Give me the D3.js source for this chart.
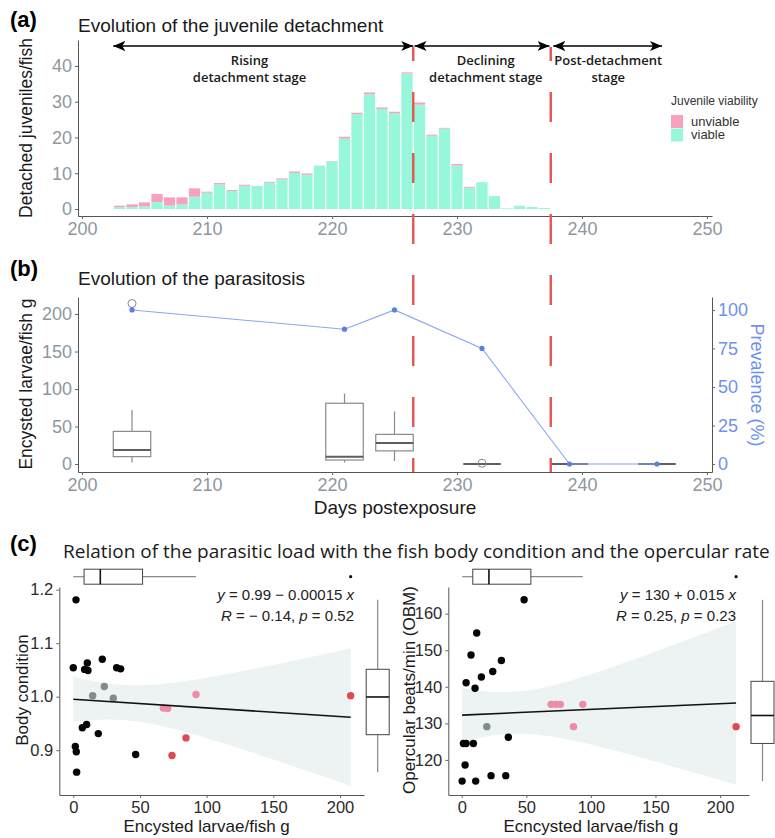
<!DOCTYPE html>
<html>
<head>
<meta charset="utf-8">
<script src="https://cdn.jsdelivr.net/npm/d3@7"></script>
<style>
  body { margin: 0; background: #fff; }
  svg text { font-family: "Liberation Sans", Arial, sans-serif; }
  .tickA text { fill: #8e979f; font-size: 18px; }
  .tickC text { fill: #2b2b2b; font-size: 16.5px; }
  .tickA line, .tickC line { stroke: #666; }
  .tickA path, .tickC path { stroke: #555; }
</style>
</head>
<body>
<div id="graph"></div>
<script>
// ---------- (a) juvenile detachment ----------
var detachDays  = [203, 204, 205, 206, 207, 208, 209, 210, 211, 212, 213, 214, 215, 216, 217, 218, 219, 220,
                   221, 222, 223, 224, 225, 226, 227, 228, 229, 230, 231, 232, 233, 234, 235, 236, 237];
var viableJuv   = [0.56, 0.56, 0.74, 1.95, 0.93, 1.3, 3.44, 4.56, 6.88, 5.02, 6.5, 6.4, 7.35, 8.28, 10.1, 9.6, 12.1, 13.3,
                   19.7, 26.5, 32.1, 28.0, 26.8, 37.9, 29.2, 20.5, 22.5, 12.2, 5.95, 7.5, 3.6, 0.2, 0.9, 0.55, 0.25];
var unviableJuv = [0.37, 0.74, 1.12, 2.25, 2.33, 1.96, 2.33, 0.28, 0.38, 0.28, 0.3, 0.05, 0.25, 0.28, 0.4, 0.35, 0.05, 0.1,
                   0.5, 0.4, 0.5, 0.4, 0.4, 0.3, 0.6, 0.3, 0.2, 0.4, 0.25, 0, 0, 0, 0, 0, 0];
var detachTicks = [0, 10, 20, 30, 40];
var dayTicks    = [200, 210, 220, 230, 240, 250];

var stageStart  = [202.5, 226.6, 237.7];
var stageEnd    = [226.5, 237.4, 246.4];
var stageMid    = [213.4, 232.3, 242.1];
var stageLine1  = ['Rising', 'Declining', 'Post-detachment'];
var stageLine2  = ['detachment stage', 'detachment stage', 'stage'];
var stageCuts   = [226.5, 237.5];

var legendKeys   = ['unviable', 'viable'];

// ---------- (b) parasitosis ----------
var prevDays    = [204, 221, 225, 232, 239, 246];
var prevalence  = [100, 87.5, 100, 75, 0, 0];
var boxDays     = [204, 221, 225, 232, 239, 246];
var boxLow      = [2, 2, 4, 0, 0, 0];
var boxQ1       = [9.8, 5.3, 17.5, 0, 0, 0];
var boxMed      = [18.7, 9.8, 28, 0, 0, 0];
var boxQ3       = [43.5, 81, 39.5, 0, 0, 0];
var boxHigh     = [72, 94, 70, 0, 0, 0];
var outDays     = [204, 232];
var outVals     = [214, 1];
var larvaeTicks = [0, 50, 100, 150, 200];
var prevTicks   = [0, 25, 50, 75, 100];

// ---------- (c) relations ----------
// group: k = black, g = grey, p = pink, r = red
var bcLoad  = [2, 0, 10.5, 8.5, 11, 21.75, 32.5, 35.5, 6.75, 10, 18.75, 1.5, 2.25, 2.5, 46.75,
               14.5, 23.25, 30, 67.5, 70.75, 92, 74, 84.5, 208];
var bcValue = [1.181, 1.054, 1.063, 1.051, 1.049, 1.070, 1.054, 1.052, 0.942, 0.948, 0.931, 0.907, 0.897, 0.859, 0.892,
               1.002, 1.019, 0.997, 0.979, 0.978, 1.004, 0.890, 0.923, 1.002];
var bcGroup = ['k','k','k','k','k','k','k','k','k','k','k','k','k','k','k',
               'g','g','g','p','p','p','r','r','r'];

var obmLoad  = [0.3, 2.6, 1.3, 3.4, 9, 3.4, 10.3, 7.2, 11.6, 15.2, 24, 30.7, 48.3, 36.1, 10.8, 22.7, 34.1,
                19.4, 69.2, 72.8, 76.4, 93.7, 86.5, 212.4];
var obmValue = [114.2, 118.6, 124.5, 124.5, 124.5, 141.1, 139.6, 148.7, 154.7, 142.7, 144.2, 147.2, 163.8, 126.2, 114.2, 115.7, 115.7,
                129.1, 135.2, 135.2, 135.2, 135.2, 129.1, 129.1];
var obmGroup = ['k','k','k','k','k','k','k','k','k','k','k','k','k','k','k','k','k',
                'g','p','p','p','p','p','r'];

var loadTicks = [0, 50, 100, 150, 200];
var bcTicks   = [0.9, 1.0, 1.1, 1.2];
var obmTicks  = [120, 130, 140, 150, 160];
var tCrit     = 2.074;   // t(0.975, df = 22)

var groupColour = { k: '#050505', g: '#7f8b8c', p: '#ec8ca6', r: '#e04a4e' };
var viableCol   = '#96f7da';
var unviableCol = '#f7a1bb';
var cutCol      = '#e2574f';
var prevCol     = '#6f90ee';

var svg = d3.select('#graph').append('svg')
            .attr('width', 775)
            .attr('height', 838);

svg.append('defs').append('marker')
   .attr('id', 'arrowHead')
   .attr('viewBox', '0 0 12 10')
   .attr('refX', 12).attr('refY', 5)
   .attr('markerWidth', 12).attr('markerHeight', 10)
   .attr('markerUnits', 'userSpaceOnUse')
   .attr('orient', 'auto-start-reverse')
   .append('path')
   .attr('d', 'M0,0 L12,5 L0,10 L3,5 Z')
   .attr('fill', '#000');

// shared day axis for (a) and (b)
var xDay = d3.scaleLinear().domain([199.68, 250.4]).range([78, 712]);

//
// (a)
//
var yA = d3.scaleLinear().domain([-1.96, 47.27]).range([216, 40]);

svg.append('text').attr('x', 10).attr('y', 27)
   .style('font-size', '22px').style('font-weight', 'bold').text('(a)');
svg.append('text').attr('x', 78).attr('y', 32)
   .style('font-size', '19px').attr('fill', '#1a1a1a').text('Evolution of the juvenile detachment');

var barW = 0.9 * (xDay(1) - xDay(0));
var bars = svg.append('g');
bars.selectAll('.viable').data(detachDays).enter().append('rect')
    .attr('x', function (d) { return xDay(d) - barW / 2; })
    .attr('width', barW)
    .attr('y', function (d, i) { return yA(viableJuv[i]); })
    .attr('height', function (d, i) { return yA(0) - yA(viableJuv[i]); })
    .attr('fill', viableCol);
bars.selectAll('.unviable').data(detachDays).enter().append('rect')
    .attr('x', function (d) { return xDay(d) - barW / 2; })
    .attr('width', barW)
    .attr('y', function (d, i) { return yA(viableJuv[i] + unviableJuv[i]); })
    .attr('height', function (d, i) { return yA(viableJuv[i]) - yA(viableJuv[i] + unviableJuv[i]); })
    .attr('fill', unviableCol);

svg.append('g').attr('class', 'tickA')
   .attr('transform', 'translate(78,0)')
   .call(d3.axisLeft(yA).tickValues(detachTicks).tickSize(3).tickSizeOuter(0));
svg.append('g').attr('class', 'tickA')
   .attr('transform', 'translate(0,216)')
   .call(d3.axisBottom(xDay).tickValues(dayTicks).tickSize(3).tickSizeOuter(0));

svg.append('text')
   .attr('transform', 'translate(32,128) rotate(-90)')
   .attr('text-anchor', 'middle')
   .style('font-size', '17.5px').attr('fill', '#1a1a1a')
   .text('Detached juveniles/fish');

// stage arrows and labels
stageStart.forEach(function (s, i) {
    svg.append('line')
       .attr('x1', xDay(s)).attr('x2', xDay(stageEnd[i]))
       .attr('y1', 46).attr('y2', 46)
       .attr('stroke', '#000').attr('stroke-width', 1.5)
       .attr('marker-start', 'url(#arrowHead)')
       .attr('marker-end', 'url(#arrowHead)');
    var t = svg.append('text')
       .attr('x', xDay(stageMid[i])).attr('text-anchor', 'middle')
       .style('font-family', '"Open Sans", sans-serif')
       .style('font-size', '13px').style('font-weight', 600).attr('fill', '#1a1a1a');
    t.append('tspan').attr('x', xDay(stageMid[i])).attr('y', 65).text(stageLine1[i]);
    t.append('tspan').attr('x', xDay(stageMid[i])).attr('y', 82).text(stageLine2[i]);
});

// legend
svg.append('text').attr('x', 671).attr('y', 105)
   .style('font-size', '12px').attr('fill', '#333').text('Juvenile viability');
legendKeys.forEach(function (k, i) {
    svg.append('rect').attr('x', 671).attr('y', 115 + i * 13.5)
       .attr('width', 12).attr('height', 13)
       .attr('fill', i == 0 ? unviableCol : viableCol);
    svg.append('text').attr('x', 691).attr('y', 125.5 + i * 13.5)
       .style('font-size', '13px').attr('fill', '#333').text(k);
});

//
// (b)
//
var yB  = d3.scaleLinear().domain([-10.67, 222.7]).range([472, 297]);
var yBP = d3.scaleLinear().domain([-5.19, 108.4]).range([472, 297]);

svg.append('text').attr('x', 10).attr('y', 276)
   .style('font-size', '22px').style('font-weight', 'bold').text('(b)');
svg.append('text').attr('x', 78).attr('y', 285)
   .style('font-size', '19px').attr('fill', '#1a1a1a').text('Evolution of the parasitosis');

var boxHalf = 1.5 * (xDay(1) - xDay(0));
var boxes = svg.append('g').attr('fill', 'none');
boxDays.forEach(function (d, i) {
    var cx = xDay(d);
    boxes.append('line').attr('x1', cx).attr('x2', cx)
         .attr('y1', yB(boxQ3[i])).attr('y2', yB(boxHigh[i]))
         .attr('stroke', '#8a8a8a').attr('stroke-width', 1.2);
    boxes.append('line').attr('x1', cx).attr('x2', cx)
         .attr('y1', yB(boxQ1[i])).attr('y2', yB(boxLow[i]))
         .attr('stroke', '#8a8a8a').attr('stroke-width', 1.2);
    boxes.append('rect').attr('x', cx - boxHalf).attr('width', 2 * boxHalf)
         .attr('y', yB(boxQ3[i])).attr('height', yB(boxQ1[i]) - yB(boxQ3[i]))
         .attr('stroke', '#8a8a8a').attr('stroke-width', 1.2);
    boxes.append('line').attr('x1', cx - boxHalf).attr('x2', cx + boxHalf)
         .attr('y1', yB(boxMed[i])).attr('y2', yB(boxMed[i]))
         .attr('stroke', '#5e5e5e').attr('stroke-width', 2);
});
outDays.forEach(function (d, i) {
    boxes.append('circle').attr('cx', xDay(d)).attr('cy', yB(outVals[i])).attr('r', 4)
         .attr('stroke', '#8a8a8a').attr('stroke-width', 1);
});

svg.append('path')
   .datum(prevDays)
   .attr('fill', 'none').attr('stroke', '#8aa6f0').attr('stroke-width', 1.1)
   .attr('d', d3.line().x(function (d) { return xDay(d); })
                       .y(function (d, i) { return yBP(prevalence[i]); }));
svg.selectAll('.prevPt').data(prevDays).enter().append('circle')
   .attr('cx', function (d) { return xDay(d); })
   .attr('cy', function (d, i) { return yBP(prevalence[i]); })
   .attr('r', 2.6).attr('fill', '#5b7ee8');

svg.append('g').attr('class', 'tickA')
   .attr('transform', 'translate(78,0)')
   .call(d3.axisLeft(yB).tickValues(larvaeTicks).tickSize(3).tickSizeOuter(0));
var rAx = svg.append('g').attr('class', 'tickA')
   .attr('transform', 'translate(712,0)')
   .call(d3.axisRight(yBP).tickValues(prevTicks).tickSize(3).tickSizeOuter(0));
rAx.selectAll('text').style('fill', prevCol);
svg.append('g').attr('class', 'tickA')
   .attr('transform', 'translate(0,472)')
   .call(d3.axisBottom(xDay).tickValues(dayTicks).tickSize(3).tickSizeOuter(0));

svg.append('text')
   .attr('transform', 'translate(32,384) rotate(-90)')
   .attr('text-anchor', 'middle')
   .style('font-size', '17.5px').attr('fill', '#1a1a1a')
   .text('Encysted larvae/fish g');
svg.append('text')
   .attr('transform', 'translate(751,385) rotate(90)')
   .attr('text-anchor', 'middle')
   .style('font-size', '18px').attr('fill', prevCol)
   .text('Prevalence (%)');
svg.append('text').attr('x', 395).attr('y', 514).attr('text-anchor', 'middle')
   .style('font-size', '19px').attr('fill', '#1a1a1a').text('Days postexposure');

// red cut lines across (a) and (b)
stageCuts.forEach(function (c) {
    svg.append('line')
       .attr('x1', xDay(c)).attr('x2', xDay(c))
       .attr('y1', 47).attr('y2', 472)
       .attr('stroke', cutCol).attr('stroke-width', 2.4)
       .attr('stroke-dasharray', '30,31').attr('stroke-dashoffset', 16);
});

//
// (c)
//
svg.append('text').attr('x', 10).attr('y', 551)
   .style('font-size', '22px').style('font-weight', 'bold').text('(c)');
var titleC = svg.append('text').attr('x', 63).attr('y', 558)
   .style('font-family', '"Open Sans", sans-serif')
   .style('font-size', '18px').attr('fill', '#1a1a1a')
   .text('Relation of the parasitic load with the fish body condition and the opercular rate');
var tw = titleC.node().getComputedTextLength();
titleC.style('font-size', (18 * 707 / tw) + 'px');

function boxStats (vals)
{
    var s = vals.slice().sort(d3.ascending);
    var q1 = d3.quantile(s, 0.25), med = d3.quantile(s, 0.5), q3 = d3.quantile(s, 0.75);
    var iqr = q3 - q1;
    var inside = s.filter(function (v) { return v >= q1 - 1.5 * iqr && v <= q3 + 1.5 * iqr; });
    return { q1: q1, med: med, q3: q3, lo: d3.min(inside), hi: d3.max(inside),
             out: s.filter(function (v) { return v < q1 - 1.5 * iqr || v > q3 + 1.5 * iqr; }) };
}

function drawScatter (xs, ys, grp, xScale, yScale, yTicks, yFmt, yLabel, yLabelX, xLabel, eq1, eq2, eqX, sideX)
{
    var g = svg.append('g');

    // regression + 95% band
    var n = xs.length;
    var mx = d3.mean(xs), my = d3.mean(ys);
    var sxx = d3.sum(xs, function (v) { return (v - mx) * (v - mx); });
    var sxy = d3.sum(xs, function (v, i) { return (v - mx) * (ys[i] - my); });
    var slope = sxy / sxx, icpt = my - slope * mx;
    var sse = d3.sum(xs, function (v, i) { var r = ys[i] - (icpt + slope * v); return r * r; });
    var se = Math.sqrt(sse / (n - 2));
    var xmin = d3.min(xs), xmax = d3.max(xs);
    var grid = d3.range(0, 81).map(function (k) { return xmin + (xmax - xmin) * k / 80; });
    var half = function (v) { return tCrit * se * Math.sqrt(1 / n + (v - mx) * (v - mx) / sxx); };

    g.append('path').datum(grid)
     .attr('fill', '#edf2f2')
     .attr('d', d3.area().x(function (v) { return xScale(v); })
                         .y0(function (v) { return yScale(icpt + slope * v - half(v)); })
                         .y1(function (v) { return yScale(icpt + slope * v + half(v)); }));

    g.selectAll('.pt').data(xs).enter().append('circle')
     .attr('cx', function (d) { return xScale(d); })
     .attr('cy', function (d, i) { return yScale(ys[i]); })
     .attr('r', 3.7)
     .attr('fill', function (d, i) { return groupColour[grp[i]]; });

    g.append('line')
     .attr('x1', xScale(xmin)).attr('x2', xScale(xmax))
     .attr('y1', yScale(icpt + slope * xmin)).attr('y2', yScale(icpt + slope * xmax))
     .attr('stroke', '#111').attr('stroke-width', 1.6);

    svg.append('g').attr('class', 'tickC')
       .attr('transform', 'translate(' + xScale.range()[0] + ',0)')
       .call(d3.axisLeft(yScale).tickValues(yTicks).tickFormat(yFmt).tickSize(3).tickSizeOuter(0));
    svg.append('g').attr('class', 'tickC')
       .attr('transform', 'translate(0,795)')
       .call(d3.axisBottom(xScale).tickValues(loadTicks).tickSize(3).tickSizeOuter(0));

    svg.append('text')
       .attr('transform', 'translate(' + yLabelX + ',690) rotate(-90)')
       .attr('text-anchor', 'middle')
       .style('font-size', '17px').attr('fill', '#1a1a1a').text(yLabel);
    svg.append('text')
       .attr('x', (xScale(0) + xScale(200)) / 2).attr('y', 832).attr('text-anchor', 'middle')
       .style('font-size', '17px').attr('fill', '#1a1a1a').text(xLabel);

    // equation text
    [eq1, eq2].forEach(function (parts, li) {
        var t = svg.append('text').attr('x', eqX).attr('y', 600 + li * 21)
                   .attr('text-anchor', 'end')
                   .style('font-size', '15px').attr('fill', '#222');
        parts.forEach(function (p) {
            t.append('tspan').style('font-style', p[1] ? 'italic' : 'normal').text(p[0]);
        });
    });

    // marginal boxplot on top (x distribution)
    var bx = boxStats(xs), cy = 576.7, hh = 7.5;
    var mg = svg.append('g').attr('fill', 'none');
    mg.append('line').attr('x1', xScale(bx.lo)).attr('x2', xScale(bx.q1)).attr('y1', cy).attr('y2', cy)
      .attr('stroke', '#888').attr('stroke-width', 1.2);
    mg.append('line').attr('x1', xScale(bx.q3)).attr('x2', xScale(bx.hi)).attr('y1', cy).attr('y2', cy)
      .attr('stroke', '#888').attr('stroke-width', 1.2);
    mg.append('rect').attr('x', xScale(bx.q1)).attr('width', xScale(bx.q3) - xScale(bx.q1))
      .attr('y', cy - hh).attr('height', 2 * hh).attr('stroke', '#444').attr('stroke-width', 1);
    mg.append('line').attr('x1', xScale(bx.med)).attr('x2', xScale(bx.med)).attr('y1', cy - hh).attr('y2', cy + hh)
      .attr('stroke', '#111').attr('stroke-width', 1.6);
    bx.out.forEach(function (o) {
        mg.append('circle').attr('cx', xScale(o)).attr('cy', cy).attr('r', 1.6).attr('fill', '#111');
    });

    // marginal boxplot on the side (y distribution)
    var by = boxStats(ys), hw = 11.5;
    mg.append('line').attr('x1', sideX).attr('x2', sideX).attr('y1', yScale(by.lo)).attr('y2', yScale(by.q1))
      .attr('stroke', '#888').attr('stroke-width', 1.2);
    mg.append('line').attr('x1', sideX).attr('x2', sideX).attr('y1', yScale(by.q3)).attr('y2', yScale(by.hi))
      .attr('stroke', '#888').attr('stroke-width', 1.2);
    mg.append('rect').attr('x', sideX - hw).attr('width', 2 * hw)
      .attr('y', yScale(by.q3)).attr('height', yScale(by.q1) - yScale(by.q3))
      .attr('stroke', '#444').attr('stroke-width', 1);
    mg.append('line').attr('x1', sideX - hw).attr('x2', sideX + hw).attr('y1', yScale(by.med)).attr('y2', yScale(by.med))
      .attr('stroke', '#111').attr('stroke-width', 1.6);
}

var xL = d3.scaleLinear().domain([-10.5, 218]).range([59.3, 364]);
var yL = d3.scaleLinear().domain([0.8163, 1.205]).range([795, 587]);
var xR = d3.scaleLinear().domain([-10.4, 222.4]).range([448.3, 749]);
var yR = d3.scaleLinear().domain([110.4, 167.3]).range([795, 587]);

drawScatter(bcLoad, bcValue, bcGroup, xL, yL, bcTicks, d3.format('.1f'), 'Body condition', 28,
            'Encysted larvae/fish g',
            [['y', 1], [' = 0.99 \u2212 0.00015 ', 0], ['x', 1]],
            [['R', 1], [' = \u2212 0.14, ', 0], ['p', 1], [' = 0.52', 0]],
            354, 377.7);
drawScatter(obmLoad, obmValue, obmGroup, xR, yR, obmTicks, d3.format('d'), 'Opercular beats/min (OBM)', 415,
            'Ecncysted larvae/fish g',
            [['y', 1], [' = 130 + 0.015 ', 0], ['x', 1]],
            [['R', 1], [' = 0.25, ', 0], ['p', 1], [' = 0.23', 0]],
            736, 762.5);
</script>
</body>
</html>
